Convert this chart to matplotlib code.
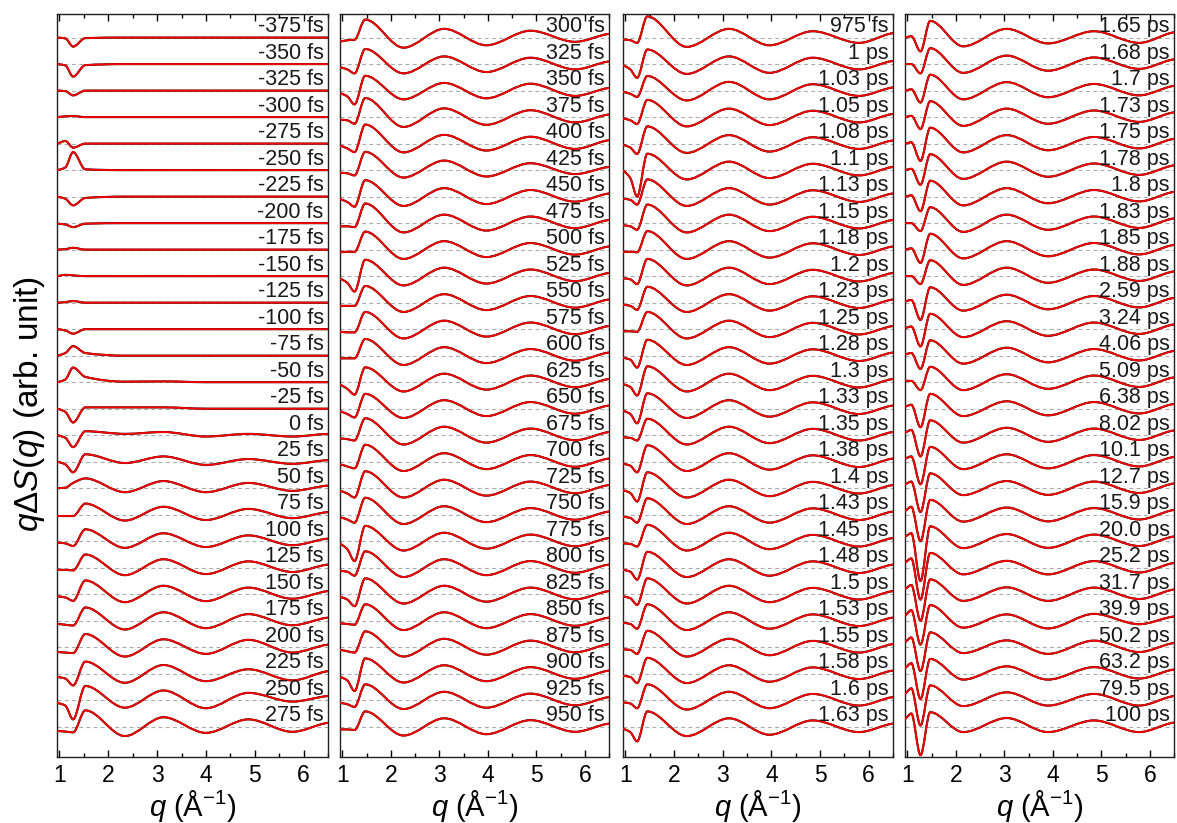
import numpy as np
import matplotlib
matplotlib.use("Agg")
import matplotlib.pyplot as plt
from matplotlib.path import Path
from matplotlib.patches import PathPatch
from matplotlib.ticker import MultipleLocator
import matplotlib.transforms as mtransforms

plt.rcParams['font.family'] = ['Liberation Sans', 'DejaVu Sans']
plt.rcParams['mathtext.fontset'] = 'custom'
plt.rcParams['mathtext.rm'] = 'Liberation Sans'
plt.rcParams['mathtext.it'] = 'Liberation Sans:italic'
plt.rcParams['mathtext.bf'] = 'Liberation Sans:bold'

# ---------------- data (values in units of trace spacing) ----------------
labels_1 = ["-375 fs", "-350 fs", "-325 fs", "-300 fs", "-275 fs", "-250 fs", "-225 fs",
            "-200 fs", "-175 fs", "-150 fs", "-125 fs", "-100 fs", "-75 fs", "-50 fs",
            "-25 fs", "0 fs", "25 fs", "50 fs", "75 fs", "100 fs", "125 fs", "150 fs",
            "175 fs", "200 fs", "225 fs", "250 fs", "275 fs"]
labels_2 = ["300 fs", "325 fs", "350 fs", "375 fs", "400 fs", "425 fs", "450 fs", "475 fs",
            "500 fs", "525 fs", "550 fs", "575 fs", "600 fs", "625 fs", "650 fs", "675 fs",
            "700 fs", "725 fs", "750 fs", "775 fs", "800 fs", "825 fs", "850 fs", "875 fs",
            "900 fs", "925 fs", "950 fs"]
labels_3 = ["975 fs", "1 ps", "1.03 ps", "1.05 ps", "1.08 ps", "1.1 ps", "1.13 ps", "1.15 ps",
            "1.18 ps", "1.2 ps", "1.23 ps", "1.25 ps", "1.28 ps", "1.3 ps", "1.33 ps", "1.35 ps",
            "1.38 ps", "1.4 ps", "1.43 ps", "1.45 ps", "1.48 ps", "1.5 ps", "1.53 ps", "1.55 ps",
            "1.58 ps", "1.6 ps", "1.63 ps"]
labels_4 = ["1.65 ps", "1.68 ps", "1.7 ps", "1.73 ps", "1.75 ps", "1.78 ps", "1.8 ps", "1.83 ps",
            "1.85 ps", "1.88 ps", "2.59 ps", "3.24 ps", "4.06 ps", "5.09 ps", "6.38 ps", "8.02 ps",
            "10.1 ps", "12.7 ps", "15.9 ps", "20.0 ps", "25.2 ps", "31.7 ps", "39.9 ps", "50.2 ps",
            "63.2 ps", "79.5 ps", "100 ps"]

# q positions of the read points (start, pre-edge, sharp feature, 1st max, min, max, min, max, min, end)
q_pts_1 = [0.95, 1.12, 1.28, 1.53, 2.34, 3.13, 4.0, 4.87, 5.77, 6.5]
q_pts_2 = [0.95, 1.10, 1.25, 1.47, 2.26, 3.10, 3.97, 4.88, 5.80, 6.5]
q_pts_3 = [0.95, 1.10, 1.24, 1.45, 2.26, 3.13, 3.96, 4.85, 5.80, 6.5]
q_pts_4 = [0.95, 1.08, 1.27, 1.47, 2.15, 3.05, 3.90, 4.85, 5.78, 6.5]

# panel 1
start_1 = [0, 0, 0, 0, 0, 0, 0, -0.02, 0, 0, 0, 0, 0, 0, 0, 0, 0, 0, -0.05, -0.05, -0.08, -0.08, -0.12, -0.18, -0.12, -0.1, -0.16]
pre_1   = [-0.03, -0.05, -0.02, 0.03, 0.10, 0.10, -0.08, -0.05, 0.02, 0.05, 0.02, -0.05, 0.10, 0.10, -0.12, -0.10, -0.10, 0.02, -0.05, -0.08, -0.08, -0.12, -0.15, -0.20, -0.18, -0.20, -0.18]
feat_1  = [-0.34, -0.47, -0.18, 0.04, -0.15, 0.68, -0.33, -0.15, 0.07, 0.03, 0.06, -0.17, 0.36, 0.55, -0.52, -0.45, -0.40, 0.20, -0.05, -0.18, -0.10, -0.25, -0.18, -0.22, -0.44, -0.72, -0.21]
pk_1    = [-0.02, -0.04, 0, 0, 0, 0.03, -0.05, -0.02, 0, 0, 0, 0, 0.10, 0.20, 0.05, 0.15, 0.28, 0.37, 0.42, 0.45, 0.50, 0.52, 0.50, 0.50, 0.46, 0.54, 0.62]
mn1_1   = [0, 0, 0, 0, 0, 0, 0, 0, 0, 0, 0, 0, 0, 0.02, 0.05, 0.05, -0.05, -0.15, -0.22, -0.25, -0.28, -0.30, -0.33, -0.35, -0.34, -0.28, -0.35]
mx2_1   = [0, 0, 0, 0, 0, 0, 0, 0, 0, 0, 0, 0, 0, 0.03, 0.05, 0.12, 0.20, 0.27, 0.30, 0.30, 0.32, 0.32, 0.32, 0.30, 0.33, 0.37, 0.36]
mn2_1   = [0, 0, 0, 0, 0, 0, 0, 0, 0, 0, 0, 0, 0, 0, 0, -0.05, -0.12, -0.15, -0.20, -0.22, -0.24, -0.26, -0.28, -0.25, -0.28, -0.30, -0.23]
mx3_1   = [0, 0, 0, 0, 0, 0, 0, 0, 0, 0, 0, 0, 0, 0, 0, 0.05, 0.10, 0.20, 0.22, 0.22, 0.24, 0.25, 0.25, 0.28, 0.17, 0.28, 0.28]
mn3_1   = [0, 0, 0, 0, 0, 0, 0, 0, 0, 0, 0, 0, 0, 0, 0, -0.05, -0.08, -0.10, -0.13, -0.15, -0.16, -0.17, -0.17, -0.20, -0.25, -0.05, -0.19]
end_1   = [0, 0, 0, 0, 0, 0, 0, 0, 0, 0, 0, 0, 0, 0, 0, 0.05, 0.06, 0.10, 0.10, 0.10, 0.12, 0.12, 0.12, 0.10, 0.10, 0.16, 0.15]

# panel 2
start_2 = [-0.15, -0.12, -0.10, -0.10, -0.08, -0.10, -0.10, -0.12, -0.10, -0.10, -0.12, -0.10, -0.10, -0.10, -0.10, -0.12, -0.10, -0.10, -0.10, -0.10, -0.12, -0.10, -0.10, -0.10, -0.12, -0.10, -0.10]
pre_2   = [-0.10, -0.20, -0.22, -0.12, -0.18, -0.12, -0.20, -0.12, -0.08, -0.25, -0.12, -0.12, -0.10, -0.25, -0.20, -0.15, -0.18, -0.20, -0.18, -0.30, -0.15, -0.20, -0.12, -0.15, -0.25, -0.15, -0.10]
feat_2  = [-0.08, -0.35, -0.52, -0.25, -0.32, -0.20, -0.38, -0.15, -0.08, -0.58, -0.12, -0.12, -0.10, -0.47, -0.33, -0.20, -0.25, -0.35, -0.30, -0.75, -0.30, -0.45, -0.15, -0.20, -0.65, -0.25, -0.12]
pk_2    = [0.68, 0.57, 0.56, 0.72, 0.72, 0.69, 0.62, 0.74, 0.68, 0.62, 0.63, 0.65, 0.63, 0.56, 0.56, 0.64, 0.64, 0.64, 0.64, 0.58, 0.62, 0.60, 0.62, 0.60, 0.58, 0.60, 0.58]
mn1_2   = [-0.38, -0.35, -0.33, -0.37, -0.33, -0.28, -0.35, -0.35, -0.35, -0.35, -0.35, -0.35, -0.35, -0.35, -0.35, -0.35, -0.35, -0.35, -0.35, -0.35, -0.35, -0.35, -0.35, -0.35, -0.33, -0.33, -0.33]
mx2_2   = [0.33, 0.29, 0.29, 0.33, 0.33, 0.36, 0.32, 0.32, 0.32, 0.32, 0.32, 0.32, 0.32, 0.32, 0.32, 0.32, 0.32, 0.32, 0.32, 0.32, 0.32, 0.32, 0.32, 0.32, 0.32, 0.32, 0.32]
mn2_2   = [-0.29, -0.30, -0.29, -0.29, -0.26, -0.24, -0.28, -0.28, -0.28, -0.28, -0.28, -0.28, -0.28, -0.28, -0.28, -0.28, -0.28, -0.28, -0.28, -0.28, -0.28, -0.28, -0.28, -0.28, -0.28, -0.28, -0.28]
mx3_2   = [0.26, 0.24, 0.26, 0.26, 0.26, 0.26, 0.25, 0.25, 0.25, 0.25, 0.25, 0.25, 0.25, 0.25, 0.25, 0.25, 0.25, 0.25, 0.25, 0.25, 0.25, 0.25, 0.25, 0.25, 0.25, 0.25, 0.25]
mn3_2   = [-0.16, -0.20, -0.20, -0.20, -0.20, -0.15, -0.19, -0.19, -0.19, -0.19, -0.19, -0.19, -0.19, -0.19, -0.19, -0.19, -0.19, -0.19, -0.19, -0.19, -0.19, -0.19, -0.19, -0.19, -0.19, -0.19, -0.19]
end_2   = [0.14, 0.10, 0.10, 0.10, 0.13, 0.12, 0.12, 0.12, 0.12, 0.12, 0.12, 0.12, 0.12, 0.12, 0.12, 0.12, 0.12, 0.12, 0.12, 0.12, 0.12, 0.12, 0.12, 0.12, 0.12, 0.12, 0.12]

# panel 3
start_3 = [-0.07, -0.05, -0.05, -0.05, -0.05, -0.02, -0.08, -0.08, -0.08, -0.08, -0.08, -0.08, -0.08, -0.08, -0.08, -0.08, -0.08, -0.08, -0.08, -0.08, -0.08, -0.08, -0.08, -0.08, -0.08, -0.08, -0.08]
pre_3   = [-0.10, -0.20, -0.12, -0.12, -0.15, -0.30, -0.12, -0.12, -0.08, -0.12, -0.12, -0.08, -0.15, -0.18, -0.20, -0.10, -0.15, -0.18, -0.12, -0.10, -0.15, -0.15, -0.12, -0.10, -0.12, -0.12, -0.20]
feat_3  = [-0.20, -0.52, -0.24, -0.26, -0.39, -1.00, -0.30, -0.25, -0.10, -0.30, -0.27, -0.10, -0.45, -0.50, -0.55, -0.20, -0.40, -0.50, -0.30, -0.20, -0.45, -0.40, -0.30, -0.25, -0.35, -0.30, -0.55]
pk_3    = [0.80, 0.55, 0.55, 0.65, 0.65, 0.62, 0.65, 0.70, 0.70, 0.65, 0.60, 0.65, 0.60, 0.60, 0.58, 0.62, 0.62, 0.60, 0.62, 0.62, 0.60, 0.60, 0.62, 0.62, 0.60, 0.60, 0.58]
mn1_3   = [-0.35, -0.37, -0.37, -0.35, -0.35, -0.35, -0.35, -0.35, -0.35, -0.35, -0.35, -0.35, -0.35, -0.35, -0.35, -0.35, -0.35, -0.35, -0.35, -0.35, -0.35, -0.35, -0.35, -0.35, -0.35, -0.35, -0.35]
mx2_3   = [0.33, 0.29, 0.33, 0.32, 0.32, 0.32, 0.32, 0.32, 0.32, 0.32, 0.32, 0.32, 0.32, 0.32, 0.32, 0.32, 0.32, 0.32, 0.32, 0.32, 0.32, 0.32, 0.32, 0.32, 0.32, 0.32, 0.32]
mn2_3   = [-0.29, -0.33, -0.33, -0.30, -0.30, -0.30, -0.30, -0.30, -0.30, -0.30, -0.30, -0.30, -0.30, -0.30, -0.30, -0.30, -0.30, -0.30, -0.30, -0.30, -0.30, -0.30, -0.30, -0.30, -0.30, -0.30, -0.30]
mx3_3   = [0.24, 0.24, 0.24, 0.24, 0.24, 0.24, 0.24, 0.24, 0.24, 0.24, 0.24, 0.24, 0.24, 0.24, 0.24, 0.24, 0.24, 0.24, 0.24, 0.24, 0.24, 0.24, 0.24, 0.24, 0.24, 0.24, 0.24]
mn3_3   = [-0.20, -0.20, -0.20, -0.20, -0.20, -0.20, -0.20, -0.20, -0.20, -0.20, -0.20, -0.20, -0.20, -0.20, -0.20, -0.20, -0.20, -0.20, -0.20, -0.20, -0.20, -0.20, -0.20, -0.20, -0.20, -0.20, -0.20]
end_3   = [0.17, 0.12, 0.12, 0.12, 0.12, 0.12, 0.12, 0.12, 0.12, 0.12, 0.12, 0.12, 0.12, 0.12, 0.12, 0.12, 0.12, 0.12, 0.12, 0.12, 0.12, 0.12, 0.12, 0.12, 0.12, 0.12, 0.12]

# panel 4
start_4 = [0.00, 0.00, 0.00, 0.00, 0.00, 0.00, 0.00, 0.00, 0.00, 0.00, 0.05, 0.05, 0.05, 0.05, 0.08, 0.10, 0.12, 0.15, 0.15, 0.18, 0.20, 0.20, 0.20, 0.20, 0.22, 0.25, 0.30]
pre_4   = [0.05, 0.00, 0.05, 0.05, 0.05, 0.05, 0.05, 0.00, 0.05, 0.00, 0.10, 0.10, 0.10, 0.05, 0.15, 0.20, 0.20, 0.25, 0.30, 0.30, 0.35, 0.35, 0.40, 0.37, 0.40, 0.45, 0.50]
feat_4  = [-0.52, -0.35, -0.45, -0.45, -0.65, -0.55, -0.55, -0.30, -0.50, -0.30, -0.65, -0.65, -0.50, -0.30, -0.70, -0.80, -0.85, -0.90, -1.00, -1.50, -1.20, -1.00, -0.90, -0.90, -0.95, -0.95, -1.07]
pk_4    = [0.63, 0.60, 0.60, 0.60, 0.60, 0.60, 0.60, 0.60, 0.60, 0.60, 0.58, 0.58, 0.58, 0.58, 0.56, 0.56, 0.56, 0.56, 0.56, 0.56, 0.56, 0.56, 0.59, 0.56, 0.56, 0.56, 0.55]
mn1_4   = [-0.33, -0.33, -0.33, -0.33, -0.33, -0.33, -0.33, -0.33, -0.33, -0.33, -0.30, -0.30, -0.30, -0.30, -0.28, -0.28, -0.28, -0.26, -0.26, -0.26, -0.25, -0.25, -0.26, -0.22, -0.22, -0.22, -0.20]
mx2_4   = [0.33, 0.32, 0.32, 0.32, 0.32, 0.32, 0.32, 0.32, 0.32, 0.32, 0.30, 0.30, 0.30, 0.30, 0.28, 0.28, 0.28, 0.27, 0.27, 0.27, 0.26, 0.26, 0.24, 0.26, 0.28, 0.30, 0.33]
mn2_4   = [-0.22, -0.25, -0.25, -0.25, -0.25, -0.25, -0.25, -0.25, -0.25, -0.25, -0.25, -0.25, -0.25, -0.25, -0.25, -0.25, -0.25, -0.25, -0.25, -0.25, -0.25, -0.25, -0.29, -0.25, -0.22, -0.20, -0.20]
mx3_4   = [0.24, 0.25, 0.25, 0.25, 0.25, 0.25, 0.25, 0.25, 0.25, 0.25, 0.25, 0.25, 0.25, 0.25, 0.25, 0.25, 0.25, 0.25, 0.25, 0.25, 0.25, 0.25, 0.26, 0.25, 0.25, 0.24, 0.24]
mn3_4   = [-0.20, -0.18, -0.18, -0.18, -0.18, -0.18, -0.18, -0.18, -0.18, -0.18, -0.18, -0.18, -0.18, -0.18, -0.18, -0.18, -0.18, -0.18, -0.18, -0.18, -0.18, -0.18, -0.13, -0.18, -0.18, -0.20, -0.20]
end_4   = [0.20, 0.18, 0.18, 0.18, 0.18, 0.18, 0.18, 0.18, 0.18, 0.18, 0.18, 0.18, 0.18, 0.18, 0.18, 0.18, 0.18, 0.18, 0.18, 0.18, 0.18, 0.18, 0.16, 0.16, 0.16, 0.16, 0.16]

panels = [
    (labels_1, q_pts_1, [start_1, pre_1, feat_1, pk_1, mn1_1, mx2_1, mn2_1, mx3_1, mn3_1, end_1]),
    (labels_2, q_pts_2, [start_2, pre_2, feat_2, pk_2, mn1_2, mx2_2, mn2_2, mx3_2, mn3_2, end_2]),
    (labels_3, q_pts_3, [start_3, pre_3, feat_3, pk_3, mn1_3, mx2_3, mn2_3, mx3_3, mn3_3, end_3]),
    (labels_4, q_pts_4, [start_4, pre_4, feat_4, pk_4, mn1_4, mx2_4, mn2_4, mx3_4, mn3_4, end_4]),
]


def smooth_path(x, y):
    """Cubic Bezier path through the read points (monotone tangents)."""
    x = np.asarray(x, float)
    y = np.asarray(y, float)
    n = len(x)
    h = np.diff(x)
    d = np.diff(y) / h
    m = np.zeros(n)
    for k in range(1, n - 1):
        if d[k - 1] * d[k] <= 0:
            m[k] = 0.0
        else:
            w1 = 2 * h[k] + h[k - 1]
            w2 = h[k] + 2 * h[k - 1]
            m[k] = (w1 + w2) / (w1 / d[k - 1] + w2 / d[k])
    m[0] = d[0] * 0.5
    m[-1] = d[-1] * 0.5
    verts = [(x[0], y[0])]
    codes = [Path.MOVETO]
    for i in range(n - 1):
        hh = h[i]
        verts.append((x[i] + hh / 3, y[i] + m[i] * hh / 3))
        verts.append((x[i + 1] - hh / 3, y[i + 1] - m[i + 1] * hh / 3))
        verts.append((x[i + 1], y[i + 1]))
        codes += [Path.CURVE4] * 3
    return Path(verts, codes)


W, H = 1177, 823
fig = plt.figure(figsize=(W / 100, H / 100), dpi=100)

lefts = [57, 340, 623, 905]
widths = [271, 269, 270, 269]
bottom_px, top_px = 757, 14

n_tr = 27
for pi, (labels, qp, cols) in enumerate(panels):
    ax = fig.add_axes([lefts[pi] / W, (H - bottom_px) / H, widths[pi] / W, (bottom_px - top_px) / H])
    ax.set_xlim(0.95, 6.5)
    ax.set_ylim(-1.14, n_tr - 1 + 0.89)
    for i in range(n_tr):
        off = n_tr - 1 - i
        vals = [c[i] + off for c in cols]
        ax.axhline(off, color='#ababab', lw=0.8, ls=(0, (3.5, 3)), zorder=1)
        pth = smooth_path(qp, vals)
        ax.add_patch(PathPatch(pth, fill=False, edgecolor='black', lw=1.5, zorder=2))
        ax.add_patch(PathPatch(pth, fill=False, edgecolor='#ff0000', lw=1.3, zorder=3))
        tr = mtransforms.blended_transform_factory(ax.transAxes, ax.transData)
        ax.text(0.984, off + 0.2, labels[i], transform=tr, ha='right', va='baseline',
                fontsize=15.5, color='#1a1a1a', zorder=4)
    ax.set_yticks([])
    ax.set_xticks([1, 2, 3, 4, 5, 6])
    ax.xaxis.set_minor_locator(MultipleLocator(0.5))
    ax.tick_params(axis='x', which='both', direction='in', top=True, bottom=True)
    ax.tick_params(axis='x', which='major', length=5, width=1, labelsize=16.5, pad=5)
    ax.tick_params(axis='x', which='minor', length=3, width=1)
    for s in ax.spines.values():
        s.set_color('#222222')
        s.set_linewidth(1.0)
    ax.set_xlabel(r'$q$ (Å$^{-1}$)', fontsize=21, labelpad=1)

fig.text(30 / W, 0.509, r'$q\Delta S(q)$ (arb. unit)', rotation=90, ha='center', va='center', fontsize=24)

fig.savefig('out.png', dpi=100)
